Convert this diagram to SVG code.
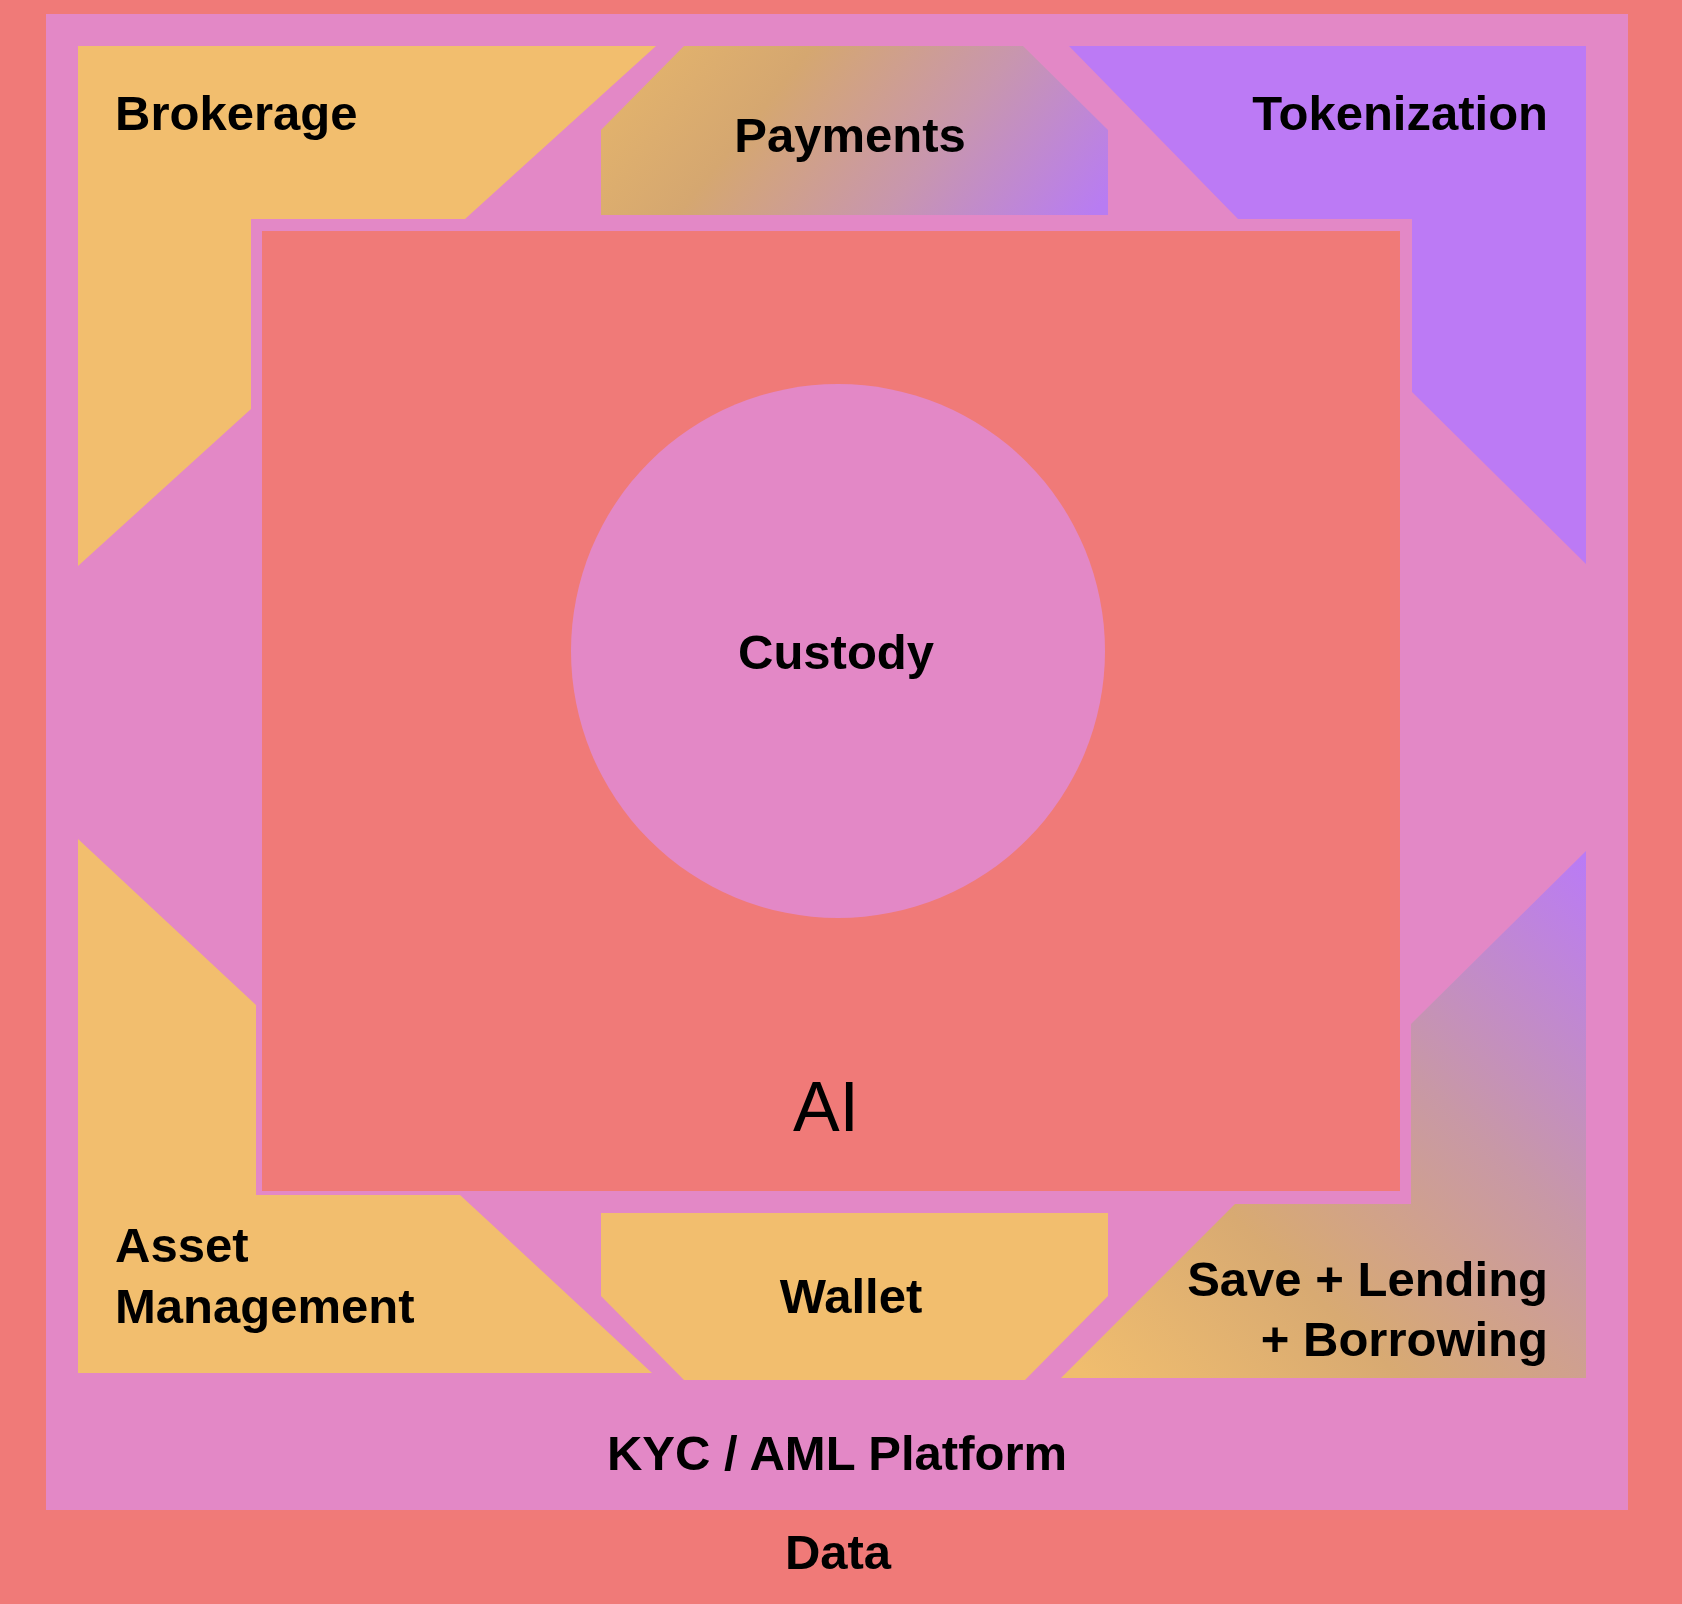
<svg xmlns="http://www.w3.org/2000/svg" width="1682" height="1604" viewBox="0 0 1682 1604">
  <style>
    .lbl { font-family: "Liberation Sans", Arial, Helvetica, sans-serif; font-weight: bold; font-size: 49px; fill: #000; }
    .ai { font-family: "Liberation Sans", Arial, Helvetica, sans-serif; font-weight: normal; font-size: 70px; fill: #000; }
    .red { fill: #F07A78; }
    .pink { fill: #E388C6; }
    .orange { fill: #F2BE6E; }
    .purple { fill: #BC7AF5; }
  </style>
  <defs>
    <linearGradient id="gPay" gradientUnits="userSpaceOnUse" x1="640" y1="40" x2="1000" y2="330">
      <stop offset="0" stop-color="#E4B46C"/>
      <stop offset="0.3" stop-color="#D5A770"/>
      <stop offset="0.65" stop-color="#C896AE"/>
      <stop offset="1" stop-color="#B87CF2"/>
    </linearGradient>
    <linearGradient id="gSave" gradientUnits="userSpaceOnUse" x1="1090" y1="1378" x2="1586" y2="860">
      <stop offset="0" stop-color="#F0BD6E"/>
      <stop offset="0.3" stop-color="#D8AA72"/>
      <stop offset="0.62" stop-color="#C898A6"/>
      <stop offset="1" stop-color="#BA7BF5"/>
    </linearGradient>
  </defs>

  <g id="data">
    <rect class="red" x="0" y="0" width="1682" height="1604"/>
    <text class="lbl" x="838" y="1569" text-anchor="middle">Data</text>
  </g>

  <g id="kyc-aml-platform">
    <rect class="pink" x="46" y="14" width="1582" height="1496"/>
    <text class="lbl" x="837" y="1470" text-anchor="middle">KYC / AML Platform</text>
  </g>

  <g id="brokerage">
    <path class="orange" d="M78,46 L656,46 L465,219 L251,219 L251,409 L78,566 Z"/>
    <text class="lbl" x="115" y="130">Brokerage</text>
  </g>

  <g id="payments">
    <path fill="url(#gPay)" d="M684,46 L1023,46 L1108,130 L1108,215 L601,215 L601,130 Z"/>
    <text class="lbl" x="850" y="152" text-anchor="middle">Payments</text>
  </g>

  <g id="tokenization">
    <path class="purple" d="M1069,46 L1586,46 L1586,564 L1412,392 L1412,219 L1238,219 Z"/>
    <text class="lbl" x="1548" y="130" text-anchor="end">Tokenization</text>
  </g>

  <g id="asset-management">
    <path class="orange" d="M78,839 L256,1005 L256,1195 L460,1195 L652,1373 L78,1373 Z"/>
    <text class="lbl" x="115" y="1262">Asset</text>
    <text class="lbl" x="115" y="1323">Management</text>
  </g>

  <g id="wallet">
    <path class="orange" d="M601,1213 L1108,1213 L1108,1296 L1025,1380 L684,1380 L601,1296 Z"/>
    <text class="lbl" x="851" y="1313" text-anchor="middle">Wallet</text>
  </g>

  <g id="save-lending-borrowing">
    <path fill="url(#gSave)" d="M1586,851 L1586,1378 L1061,1378 L1235,1204 L1411,1204 L1411,1024 Z"/>
    <text class="lbl" x="1548" y="1296" text-anchor="end">Save + Lending</text>
    <text class="lbl" x="1548" y="1356" text-anchor="end">+ Borrowing</text>
  </g>

  <g id="ai">
    <rect class="red" x="262" y="231" width="1138" height="960"/>
    <text class="ai" x="826" y="1131" text-anchor="middle">AI</text>
  </g>

  <g id="custody">
    <circle class="pink" cx="838" cy="651" r="267"/>
    <text class="lbl" x="836" y="669" text-anchor="middle">Custody</text>
  </g>

  <g id="connectors"/>
</svg>
